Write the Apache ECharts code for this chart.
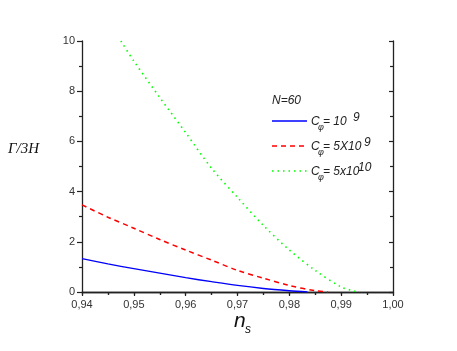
<!DOCTYPE html>
<html><head><meta charset="utf-8">
<script src="https://cdn.jsdelivr.net/npm/echarts@6/dist/echarts.min.js"></script>
<style>html,body{margin:0;padding:0;background:#fff}#c{width:457px;height:351px}</style>
</head><body><div id="c"></div>
<script>
const xTicks = [0.94, 0.95, 0.96, 0.97, 0.98, 0.99, 1.00];
const yTicks = [0, 2, 4, 6, 8, 10];
const seriesNames = ['C1e9', 'C5e9', 'C5e10'];
const legendMain = ['= 10', '= 5X10', '= 5x10'];
const legendSup = ['9', '9', '10'];
const blueX = [0.94, 0.945, 0.95, 0.955, 0.96, 0.965, 0.97, 0.975, 0.98, 0.9835];
const blueY = [1.33, 1.12, 0.93, 0.75, 0.57, 0.41, 0.26, 0.14, 0.05, 0.0];
const redX = [0.94, 0.945, 0.95, 0.955, 0.96, 0.965, 0.97, 0.975, 0.98, 0.985, 0.9875];
const redY = [3.47, 2.98, 2.54, 2.09, 1.67, 1.27, 0.86, 0.55, 0.26, 0.05, 0.0];
const greenX = [0.9475, 0.95, 0.955, 0.96, 0.965, 0.97, 0.975, 0.98, 0.985, 0.99, 0.9925, 0.9935];
const greenY = [10, 9.2, 7.75, 6.35, 4.93, 3.77, 2.65, 1.67, 0.86, 0.2, 0.04, 0.0];

const colors = ['#0000ff', '#ff0000', '#00ff00'];
const dashes = [null, [5, 4], [1.5, 4]];
const widths = [1.3, 1.5, 1.6];

const pair = (xs, ys) => xs.map((x, i) => [x, ys[i]]);
const chart = echarts.init(document.getElementById('c'), null, {renderer: 'canvas'});
const axisCol = '#222';
const sans = 'Arial, "Liberation Sans", sans-serif';
const lbl = {color: '#333', fontFamily: sans, fontSize: 11};

const graphics = [
  {type: 'text', x: 272, y: 101, style: {text: 'N=60', font: 'italic 12px ' + sans, fill: '#222', verticalAlign: 'middle'}},
  {type: 'text', x: 8, y: 149, style: {text: 'Γ/3H', font: 'italic 15px "Liberation Serif", "DejaVu Serif", serif', fill: '#111', verticalAlign: 'middle'}},
  {type: 'text', x: 234, y: 321, style: {text: 'n', font: 'italic 21px ' + sans, fill: '#111', verticalAlign: 'middle'}},
  {type: 'text', x: 245, y: 330, style: {text: 's', font: 'italic 12px ' + sans, fill: '#111', verticalAlign: 'middle'}}
];
const supX = [353, 364, 358];
seriesNames.forEach((n, i) => {
  const cy = 121 + 25 * i;
  const ls = {stroke: colors[i], lineWidth: widths[i]};
  if (dashes[i]) ls.lineDash = dashes[i];
  graphics.push({type: 'line', shape: {x1: 272, y1: cy, x2: 307, y2: cy}, style: ls});
  graphics.push({type: 'text', x: 311, y: cy + 1, style: {text: 'C', font: 'italic 12px ' + sans, fill: '#222', verticalAlign: 'middle'}});
  graphics.push({type: 'text', x: 318, y: cy + 6, style: {text: 'φ', font: 'italic 9px ' + sans, fill: '#222', verticalAlign: 'middle'}});
  graphics.push({type: 'text', x: 323, y: cy + 1, style: {text: legendMain[i], font: 'italic 12px ' + sans, fill: '#222', verticalAlign: 'middle'}});
  graphics.push({type: 'text', x: supX[i], y: cy - 3, style: {text: legendSup[i], font: 'italic 12px ' + sans, fill: '#222', verticalAlign: 'middle'}});
});

chart.setOption({
  animation: false,
  grid: {left: 82, right: 64, top: 41, bottom: 59},
  xAxis: [{
    type: 'value', min: 0.94, max: 1.0, interval: 0.01,
    axisLine: {lineStyle: {color: axisCol, width: 1.3}},
    axisTick: {length: 4, lineStyle: {color: axisCol, width: 1.2}},
    minorTick: {show: true, splitNumber: 2, length: 3, lineStyle: {color: axisCol, width: 1.2}},
    splitLine: {show: false},
    axisLabel: Object.assign({margin: 7, formatter: v => v.toFixed(2).replace('.', ',')}, lbl)
  }, {
    type: 'value', position: 'top', min: 0.94, max: 1.0, interval: 0.01,
    axisLine: {lineStyle: {color: axisCol, width: 1.3}},
    axisTick: {inside: true, length: 3, lineStyle: {color: axisCol, width: 1.2}},
    minorTick: {show: true, splitNumber: 2, length: 3, lineStyle: {color: axisCol, width: 1.2}},
    splitLine: {show: false}, axisLabel: {show: false}
  }],
  yAxis: [{
    type: 'value', min: 0, max: 10, interval: 2,
    axisLine: {show: true, lineStyle: {color: axisCol, width: 1.3}},
    axisTick: {show: true, length: 5, lineStyle: {color: axisCol, width: 1.2}},
    minorTick: {show: true, splitNumber: 2, length: 3, lineStyle: {color: axisCol, width: 1.2}},
    splitLine: {show: false},
    axisLabel: Object.assign({margin: 7, formatter: v => String(v)}, lbl)
  }, {
    type: 'value', position: 'right', min: 0, max: 10, interval: 2,
    axisLine: {show: true, lineStyle: {color: axisCol, width: 1.3}},
    axisTick: {show: true, inside: true, length: 4, lineStyle: {color: axisCol, width: 1.2}},
    minorTick: {show: true, splitNumber: 2, length: 3, lineStyle: {color: axisCol, width: 1.2}},
    splitLine: {show: false}, axisLabel: {show: false}
  }],
  graphic: graphics,
  series: [
    {name: seriesNames[0], type: 'line', data: pair(blueX, blueY), symbol: 'none', smooth: 0.3,
     lineStyle: {color: colors[0], width: widths[0]}},
    {name: seriesNames[1], type: 'line', data: pair(redX, redY), symbol: 'none', smooth: 0.3,
     lineStyle: {color: colors[1], width: widths[1], type: dashes[1]}},
    {name: seriesNames[2], type: 'line', data: pair(greenX, greenY), symbol: 'none', smooth: 0.3,
     lineStyle: {color: colors[2], width: widths[2], type: dashes[2]}}
  ]
});
</script></body></html>
